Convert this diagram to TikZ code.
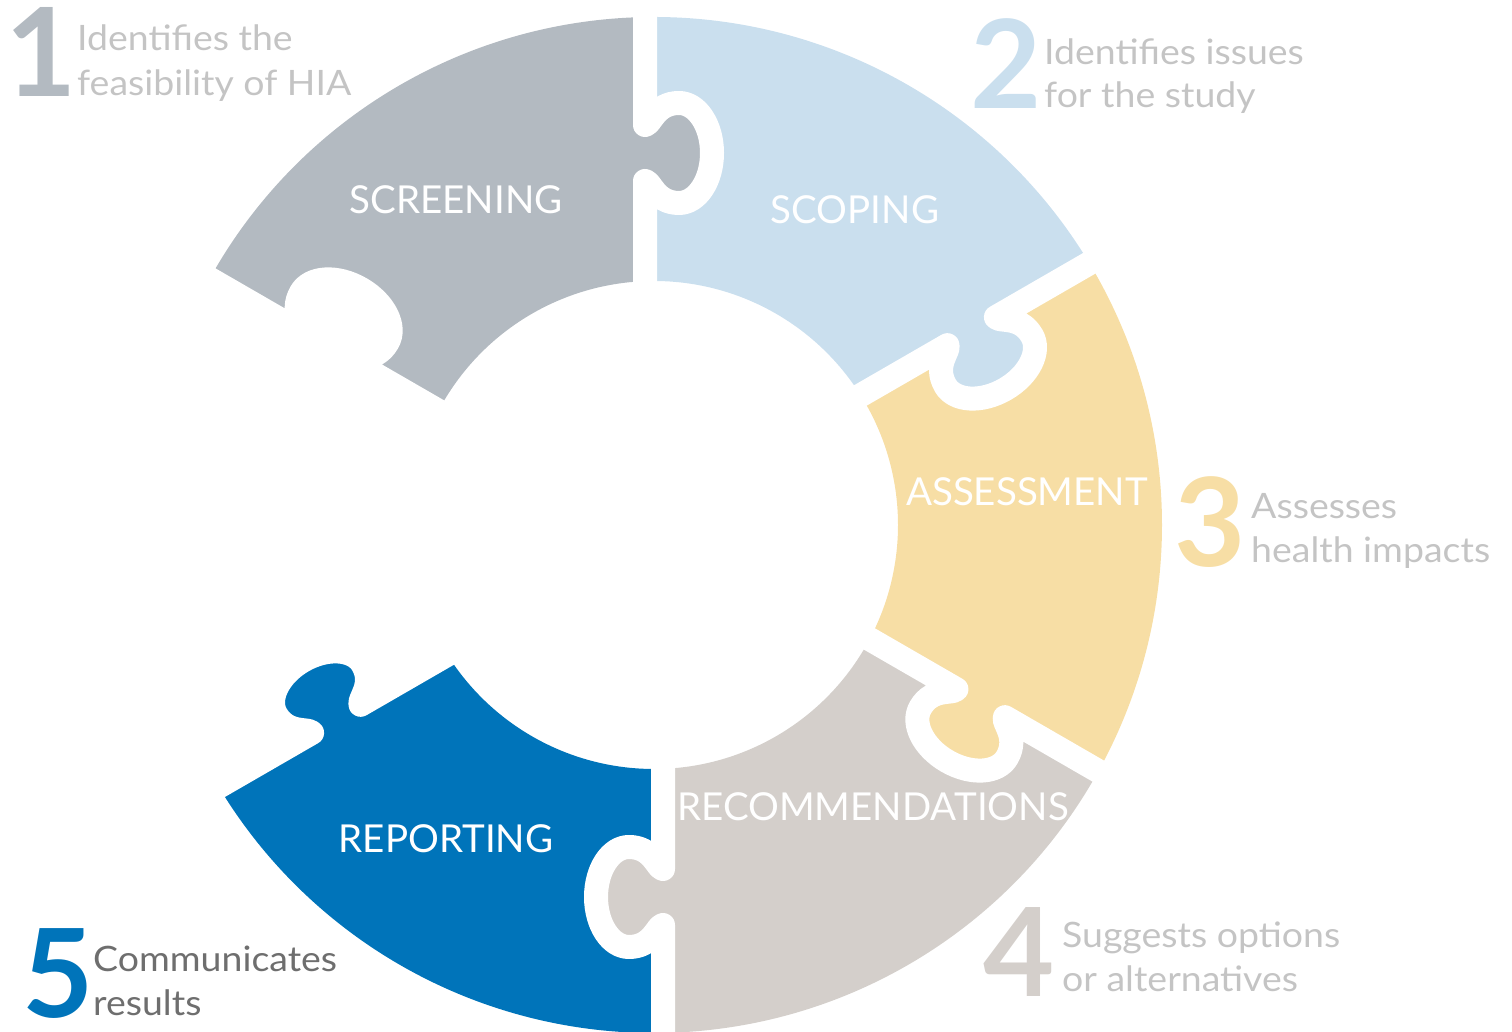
\documentclass[tikz,border=0pt]{standalone}
\usepackage{fontspec}
\setmainfont{Lato}
\newfontfamily\descfont[FakeStretch=1.07]{Lato}
\definecolor{screening}{HTML}{B3BAC1}
\definecolor{scoping}{HTML}{CADFEE}
\definecolor{assessment}{HTML}{F7DEA5}
\definecolor{recommend}{HTML}{D4CFCB}
\definecolor{reporting}{HTML}{0074BA}
\definecolor{desclight}{HTML}{C4C4C4}
\definecolor{descdark}{HTML}{6E6E6E}
\begin{document}
\begin{tikzpicture}[x=1pt,y=1pt,
  desctext/.style={anchor=base west, inner sep=0pt, text=desclight, font=\descfont\fontsize{35}{42}\selectfont},
  bignum/.style={anchor=base, inner sep=0pt, font=\fontsize{123}{130}\selectfont\bfseries},
  piecelabel/.style={anchor=base, inner sep=0pt, text=white, font=\fontsize{38.5}{44}\selectfont},
  gapline/.style={draw=white, line width=24pt, line join=round}]
\useasboundingbox (0,0) rectangle (1512,1032);
% ring sectors
\foreach \s/\e/\c in {90/150/screening, 30/90/scoping, -30/30/assessment, -90/-30/recommend, 210/270/reporting}{
  \fill[\c, shift={(654,507)}] (\s:244) -- (\s:508) arc[start angle=\s, end angle=\e, radius=508] -- (\e:244) arc[start angle=\e, end angle=\s, radius=244] -- cycle;
}
% knobs (each pointing clockwise into the next piece)
\foreach \a/\c in {90/screening, 30/scoping, -30/assessment, -90/recommend, 210/reporting, 150/white}{
  \fill[\c, shift={(654,507)}, rotate=\a, yscale=-1, shift={(0,-9)}]
    (344,-15) -- (344,0) .. controls (344,6) and (322,10) .. (322,34)
    .. controls (322,52.2) and (344.4,67) .. (372,67)
    .. controls (399.6,67) and (422,52.2) .. (422,34)
    .. controls (422,10) and (400,6) .. (400,0) -- (400,-15) -- cycle;
}
% white gaps between the pieces
\foreach \a in {90,30,-30,-90,210,150}{
  \draw[gapline, shift={(654,507)}, rotate=\a, yscale=-1, shift={(0,-9)}]
    (200,0) -- (344,0) .. controls (344,6) and (322,10) .. (322,34)
    .. controls (322,52.2) and (344.4,67) .. (372,67)
    .. controls (399.6,67) and (422,52.2) .. (422,34)
    .. controls (422,10) and (400,6) .. (400,0) -- (560,0);
}
% piece labels
\node[piecelabel] (lscreen) at (456,818) {SCREENING};
\node[piecelabel] (lscope) at (855,808) {SCOPING};
\node[piecelabel] (lassess) at (1027,526) {ASSESSMENT};
\node[piecelabel] (lrecom) at (873,211) {RECOMMENDATIONS};
\node[piecelabel] (lreport) at (446,179) {REPORTING};
% numbers and descriptions
\node[bignum, text=screening] (n1) at (41,935) {1};
\node[desctext] (d1a) at (77,981) {Identifies the};
\node[desctext] (d1b) at (77,936) {feasibility of HIA};
\node[bignum, text=scoping] (n2) at (1006,923) {2};
\node[desctext] (d2a) at (1044,967) {Identifies issues};
\node[desctext] (d2b) at (1044,924) {for the study};
\node[bignum, text=assessment] (n3) at (1210,465) {3};
\node[desctext] (d3a) at (1251,513) {Assesses};
\node[desctext] (d3b) at (1251,469) {health impacts};
\node[bignum, text=recommend] (n4) at (1019,35) {4};
\node[desctext] (d4a) at (1062,84) {Suggests options};
\node[desctext] (d4b) at (1062,40) {or alternatives};
\node[bignum, text=reporting] (n5) at (58,14) {5};
\node[desctext, text=descdark] (d5a) at (93,60) {Communicates};
\node[desctext, text=descdark] (d5b) at (93,16) {results};
\end{tikzpicture}
\end{document}
